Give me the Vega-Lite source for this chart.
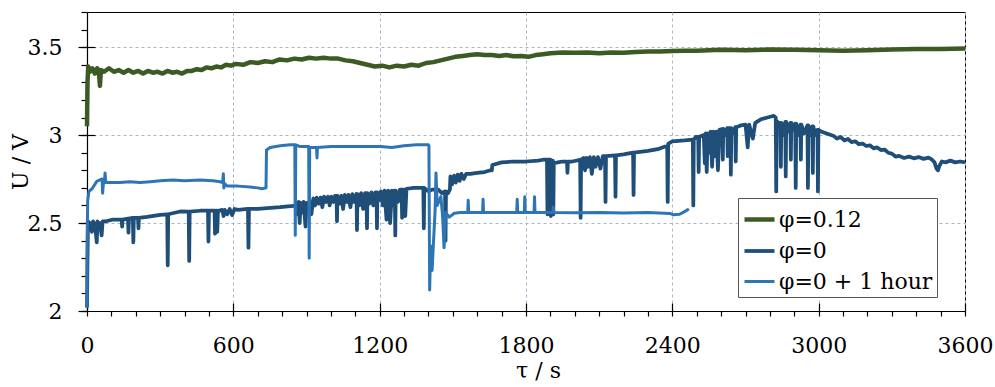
{
"$schema": "https://vega.github.io/schema/vega-lite/v6.json",
"width": 878, "height": 299,
"autosize": {"type": "none"},
"padding": {"left": 87, "top": 12, "right": 30, "bottom": 76},
"config": {
  "font": "DejaVu Serif",
  "view": {"stroke": "black", "strokeWidth": 1},
  "axis": {"labelFont": "DejaVu Serif", "titleFont": "DejaVu Serif", "labelColor": "black", "titleColor": "black", "tickColor": "black", "domainColor": "black", "domainWidth": 1.2, "tickWidth": 1.2, "labelFontSize": 22, "titleFontSize": 22, "titleFontWeight": "normal", "gridColor": "#a8b6ca", "gridDash": [3, 3], "gridWidth": 1},
  "legend": {"labelFont": "DejaVu Serif", "labelFontSize": 22, "labelColor": "black"}
},
"data": {"values": [
{"series":"φ=0.12","t":0,"U":3.05},{"series":"φ=0.12","t":2,"U":3.30},{"series":"φ=0.12","t":5,"U":3.39},{"series":"φ=0.12","t":12,"U":3.36},{"series":"φ=0.12","t":22,"U":3.38},{"series":"φ=0.12","t":32,"U":3.35},{"series":"φ=0.12","t":42,"U":3.38},{"series":"φ=0.12","t":50,"U":3.34},{"series":"φ=0.12","t":53,"U":3.28},{"series":"φ=0.12","t":57,"U":3.37},{"series":"φ=0.12","t":70,"U":3.36},{"series":"φ=0.12","t":90,"U":3.38},{"series":"φ=0.12","t":110,"U":3.36},{"series":"φ=0.12","t":130,"U":3.37},{"series":"φ=0.12","t":150,"U":3.355},{"series":"φ=0.12","t":170,"U":3.37},{"series":"φ=0.12","t":190,"U":3.355},{"series":"φ=0.12","t":210,"U":3.365},{"series":"φ=0.12","t":230,"U":3.35},{"series":"φ=0.12","t":250,"U":3.365},{"series":"φ=0.12","t":270,"U":3.355},{"series":"φ=0.12","t":290,"U":3.36},{"series":"φ=0.12","t":310,"U":3.35},{"series":"φ=0.12","t":330,"U":3.365},{"series":"φ=0.12","t":350,"U":3.355},{"series":"φ=0.12","t":370,"U":3.36},{"series":"φ=0.12","t":390,"U":3.35},{"series":"φ=0.12","t":410,"U":3.365},{"series":"φ=0.12","t":430,"U":3.365},{"series":"φ=0.12","t":450,"U":3.375},{"series":"φ=0.12","t":470,"U":3.37},{"series":"φ=0.12","t":490,"U":3.385},{"series":"φ=0.12","t":510,"U":3.38},{"series":"φ=0.12","t":530,"U":3.39},{"series":"φ=0.12","t":550,"U":3.385},{"series":"φ=0.12","t":570,"U":3.40},{"series":"φ=0.12","t":590,"U":3.395},{"series":"φ=0.12","t":610,"U":3.405},{"series":"φ=0.12","t":640,"U":3.40},{"series":"φ=0.12","t":670,"U":3.415},{"series":"φ=0.12","t":700,"U":3.41},{"series":"φ=0.12","t":730,"U":3.42},{"series":"φ=0.12","t":760,"U":3.415},{"series":"φ=0.12","t":790,"U":3.43},{"series":"φ=0.12","t":820,"U":3.425},{"series":"φ=0.12","t":850,"U":3.435},{"series":"φ=0.12","t":880,"U":3.43},{"series":"φ=0.12","t":910,"U":3.44},{"series":"φ=0.12","t":940,"U":3.435},{"series":"φ=0.12","t":970,"U":3.44},{"series":"φ=0.12","t":1000,"U":3.435},{"series":"φ=0.12","t":1030,"U":3.435},{"series":"φ=0.12","t":1060,"U":3.425},{"series":"φ=0.12","t":1090,"U":3.42},{"series":"φ=0.12","t":1120,"U":3.41},{"series":"φ=0.12","t":1150,"U":3.40},{"series":"φ=0.12","t":1180,"U":3.39},{"series":"φ=0.12","t":1210,"U":3.395},{"series":"φ=0.12","t":1240,"U":3.385},{"series":"φ=0.12","t":1270,"U":3.395},{"series":"φ=0.12","t":1300,"U":3.39},{"series":"φ=0.12","t":1330,"U":3.40},{"series":"φ=0.12","t":1360,"U":3.395},{"series":"φ=0.12","t":1390,"U":3.41},{"series":"φ=0.12","t":1420,"U":3.415},{"series":"φ=0.12","t":1450,"U":3.425},{"series":"φ=0.12","t":1480,"U":3.435},{"series":"φ=0.12","t":1510,"U":3.445},{"series":"φ=0.12","t":1540,"U":3.45},{"series":"φ=0.12","t":1570,"U":3.455},{"series":"φ=0.12","t":1600,"U":3.46},{"series":"φ=0.12","t":1630,"U":3.455},{"series":"φ=0.12","t":1660,"U":3.455},{"series":"φ=0.12","t":1690,"U":3.45},{"series":"φ=0.12","t":1720,"U":3.455},{"series":"φ=0.12","t":1750,"U":3.448},{"series":"φ=0.12","t":1780,"U":3.45},{"series":"φ=0.12","t":1810,"U":3.445},{"series":"φ=0.12","t":1840,"U":3.455},{"series":"φ=0.12","t":1870,"U":3.46},{"series":"φ=0.12","t":1900,"U":3.465},{"series":"φ=0.12","t":1950,"U":3.47},{"series":"φ=0.12","t":2000,"U":3.468},{"series":"φ=0.12","t":2050,"U":3.47},{"series":"φ=0.12","t":2100,"U":3.465},{"series":"φ=0.12","t":2150,"U":3.47},{"series":"φ=0.12","t":2200,"U":3.468},{"series":"φ=0.12","t":2250,"U":3.473},{"series":"φ=0.12","t":2300,"U":3.475},{"series":"φ=0.12","t":2350,"U":3.475},{"series":"φ=0.12","t":2400,"U":3.478},{"series":"φ=0.12","t":2450,"U":3.48},{"series":"φ=0.12","t":2500,"U":3.48},{"series":"φ=0.12","t":2600,"U":3.485},{"series":"φ=0.12","t":2700,"U":3.483},{"series":"φ=0.12","t":2800,"U":3.487},{"series":"φ=0.12","t":2900,"U":3.485},{"series":"φ=0.12","t":3000,"U":3.482},{"series":"φ=0.12","t":3100,"U":3.48},{"series":"φ=0.12","t":3200,"U":3.483},{"series":"φ=0.12","t":3300,"U":3.487},{"series":"φ=0.12","t":3400,"U":3.49},{"series":"φ=0.12","t":3500,"U":3.49},{"series":"φ=0.12","t":3600,"U":3.492},
{"series":"φ=0","t":0,"U":2.02},{"series":"φ=0","t":2,"U":2.29},{"series":"φ=0","t":4,"U":2.51},{"series":"φ=0","t":12,"U":2.50},{"series":"φ=0","t":20,"U":2.45},{"series":"φ=0","t":25,"U":2.51},{"series":"φ=0","t":33,"U":2.49},{"series":"φ=0","t":40,"U":2.39},{"series":"φ=0","t":43,"U":2.51},{"series":"φ=0","t":49,"U":2.47},{"series":"φ=0","t":53,"U":2.50},{"series":"φ=0","t":60,"U":2.43},{"series":"φ=0","t":64,"U":2.51},{"series":"φ=0","t":78,"U":2.51},{"series":"φ=0","t":107,"U":2.52},{"series":"φ=0","t":142,"U":2.52},{"series":"φ=0","t":144,"U":2.48},{"series":"φ=0","t":146,"U":2.52},{"series":"φ=0","t":168,"U":2.525},{"series":"φ=0","t":170,"U":2.445},{"series":"φ=0","t":172,"U":2.525},{"series":"φ=0","t":188,"U":2.53},{"series":"φ=0","t":190,"U":2.39},{"series":"φ=0","t":192,"U":2.53},{"series":"φ=0","t":209,"U":2.53},{"series":"φ=0","t":211,"U":2.47},{"series":"φ=0","t":213,"U":2.53},{"series":"φ=0","t":246,"U":2.535},{"series":"φ=0","t":300,"U":2.547},{"series":"φ=0","t":329,"U":2.55},{"series":"φ=0","t":331,"U":2.26},{"series":"φ=0","t":333,"U":2.55},{"series":"φ=0","t":382,"U":2.566},{"series":"φ=0","t":417,"U":2.565},{"series":"φ=0","t":419,"U":2.285},{"series":"φ=0","t":421,"U":2.565},{"series":"φ=0","t":464,"U":2.57},{"series":"φ=0","t":496,"U":2.57},{"series":"φ=0","t":498,"U":2.395},{"series":"φ=0","t":500,"U":2.57},{"series":"φ=0","t":523,"U":2.57},{"series":"φ=0","t":525,"U":2.44},{"series":"φ=0","t":528,"U":2.57},{"series":"φ=0","t":532,"U":2.57},{"series":"φ=0","t":534,"U":2.45},{"series":"φ=0","t":537,"U":2.57},{"series":"φ=0","t":555,"U":2.575},{"series":"φ=0","t":560,"U":2.54},{"series":"φ=0","t":565,"U":2.575},{"series":"φ=0","t":575,"U":2.55},{"series":"φ=0","t":585,"U":2.58},{"series":"φ=0","t":595,"U":2.545},{"series":"φ=0","t":605,"U":2.58},{"series":"φ=0","t":620,"U":2.575},{"series":"φ=0","t":660,"U":2.58},{"series":"φ=0","t":662,"U":2.36},{"series":"φ=0","t":664,"U":2.58},{"series":"φ=0","t":700,"U":2.58},{"series":"φ=0","t":739,"U":2.585},{"series":"φ=0","t":792,"U":2.59},{"series":"φ=0","t":846,"U":2.598},{"series":"φ=0","t":856,"U":2.60},{"series":"φ=0","t":860,"U":2.615},{"series":"φ=0","t":864,"U":2.55},{"series":"φ=0","t":868,"U":2.62},{"series":"φ=0","t":872,"U":2.50},{"series":"φ=0","t":876,"U":2.615},{"series":"φ=0","t":882,"U":2.56},{"series":"φ=0","t":888,"U":2.62},{"series":"φ=0","t":896,"U":2.48},{"series":"φ=0","t":900,"U":2.615},{"series":"φ=0","t":906,"U":2.57},{"series":"φ=0","t":912,"U":2.625},{"series":"φ=0","t":920,"U":2.55},{"series":"φ=0","t":928,"U":2.64},{"series":"φ=0","t":935,"U":2.60},{"series":"φ=0","t":942,"U":2.645},{"series":"φ=0","t":950,"U":2.61},{"series":"φ=0","t":958,"U":2.645},{"series":"φ=0","t":965,"U":2.59},{"series":"φ=0","t":972,"U":2.65},{"series":"φ=0","t":980,"U":2.62},{"series":"φ=0","t":988,"U":2.65},{"series":"φ=0","t":995,"U":2.60},{"series":"φ=0","t":1002,"U":2.65},{"series":"φ=0","t":1010,"U":2.62},{"series":"φ=0","t":1017,"U":2.655},{"series":"φ=0","t":1023,"U":2.655},{"series":"φ=0","t":1025,"U":2.51},{"series":"φ=0","t":1027,"U":2.655},{"series":"φ=0","t":1035,"U":2.61},{"series":"φ=0","t":1043,"U":2.655},{"series":"φ=0","t":1050,"U":2.58},{"series":"φ=0","t":1057,"U":2.66},{"series":"φ=0","t":1065,"U":2.62},{"series":"φ=0","t":1072,"U":2.66},{"series":"φ=0","t":1080,"U":2.59},{"series":"φ=0","t":1088,"U":2.665},{"series":"φ=0","t":1095,"U":2.62},{"series":"φ=0","t":1105,"U":2.665},{"series":"φ=0","t":1107,"U":2.46},{"series":"φ=0","t":1109,"U":2.665},{"series":"φ=0","t":1116,"U":2.60},{"series":"φ=0","t":1124,"U":2.67},{"series":"φ=0","t":1132,"U":2.58},{"series":"φ=0","t":1140,"U":2.67},{"series":"φ=0","t":1146,"U":2.67},{"series":"φ=0","t":1148,"U":2.47},{"series":"φ=0","t":1150,"U":2.67},{"series":"φ=0","t":1158,"U":2.61},{"series":"φ=0","t":1166,"U":2.675},{"series":"φ=0","t":1174,"U":2.60},{"series":"φ=0","t":1182,"U":2.675},{"series":"φ=0","t":1187,"U":2.675},{"series":"φ=0","t":1189,"U":2.47},{"series":"φ=0","t":1191,"U":2.675},{"series":"φ=0","t":1198,"U":2.63},{"series":"φ=0","t":1205,"U":2.68},{"series":"φ=0","t":1213,"U":2.60},{"series":"φ=0","t":1220,"U":2.685},{"series":"φ=0","t":1228,"U":2.52},{"series":"φ=0","t":1235,"U":2.685},{"series":"φ=0","t":1243,"U":2.50},{"series":"φ=0","t":1250,"U":2.685},{"series":"φ=0","t":1257,"U":2.60},{"series":"φ=0","t":1262,"U":2.685},{"series":"φ=0","t":1264,"U":2.43},{"series":"φ=0","t":1266,"U":2.685},{"series":"φ=0","t":1275,"U":2.62},{"series":"φ=0","t":1283,"U":2.69},{"series":"φ=0","t":1290,"U":2.69},{"series":"φ=0","t":1292,"U":2.53},{"series":"φ=0","t":1294,"U":2.69},{"series":"φ=0","t":1300,"U":2.69},{"series":"φ=0","t":1305,"U":2.54},{"series":"φ=0","t":1310,"U":2.695},{"series":"φ=0","t":1340,"U":2.70},{"series":"φ=0","t":1379,"U":2.70},{"series":"φ=0","t":1381,"U":2.47},{"series":"φ=0","t":1383,"U":2.70},{"series":"φ=0","t":1400,"U":2.68},{"series":"φ=0","t":1415,"U":2.69},{"series":"φ=0","t":1440,"U":2.69},{"series":"φ=0","t":1455,"U":2.67},{"series":"φ=0","t":1468,"U":2.68},{"series":"φ=0","t":1470,"U":2.40},{"series":"φ=0","t":1472,"U":2.68},{"series":"φ=0","t":1480,"U":2.67},{"series":"φ=0","t":1488,"U":2.69},{"series":"φ=0","t":1490,"U":2.765},{"series":"φ=0","t":1497,"U":2.72},{"series":"φ=0","t":1505,"U":2.77},{"series":"φ=0","t":1512,"U":2.73},{"series":"φ=0","t":1520,"U":2.775},{"series":"φ=0","t":1528,"U":2.74},{"series":"φ=0","t":1535,"U":2.78},{"series":"φ=0","t":1545,"U":2.75},{"series":"φ=0","t":1555,"U":2.78},{"series":"φ=0","t":1572,"U":2.78},{"series":"φ=0","t":1600,"U":2.785},{"series":"φ=0","t":1630,"U":2.79},{"series":"φ=0","t":1654,"U":2.80},{"series":"φ=0","t":1660,"U":2.80},{"series":"φ=0","t":1662,"U":2.83},{"series":"φ=0","t":1700,"U":2.845},{"series":"φ=0","t":1750,"U":2.85},{"series":"φ=0","t":1800,"U":2.85},{"series":"φ=0","t":1850,"U":2.855},{"series":"φ=0","t":1870,"U":2.86},{"series":"φ=0","t":1886,"U":2.86},{"series":"φ=0","t":1888,"U":2.55},{"series":"φ=0","t":1890,"U":2.86},{"series":"φ=0","t":1900,"U":2.86},{"series":"φ=0","t":1902,"U":2.54},{"series":"φ=0","t":1904,"U":2.85},{"series":"φ=0","t":1910,"U":2.855},{"series":"φ=0","t":1912,"U":2.55},{"series":"φ=0","t":1914,"U":2.84},{"series":"φ=0","t":1930,"U":2.845},{"series":"φ=0","t":1950,"U":2.85},{"series":"φ=0","t":1968,"U":2.85},{"series":"φ=0","t":1970,"U":2.785},{"series":"φ=0","t":1972,"U":2.85},{"series":"φ=0","t":1990,"U":2.85},{"series":"φ=0","t":2022,"U":2.86},{"series":"φ=0","t":2024,"U":2.53},{"series":"φ=0","t":2026,"U":2.86},{"series":"φ=0","t":2036,"U":2.87},{"series":"φ=0","t":2042,"U":2.80},{"series":"φ=0","t":2048,"U":2.87},{"series":"φ=0","t":2055,"U":2.82},{"series":"φ=0","t":2062,"U":2.875},{"series":"φ=0","t":2070,"U":2.78},{"series":"φ=0","t":2078,"U":2.875},{"series":"φ=0","t":2085,"U":2.82},{"series":"φ=0","t":2095,"U":2.875},{"series":"φ=0","t":2105,"U":2.81},{"series":"φ=0","t":2115,"U":2.88},{"series":"φ=0","t":2124,"U":2.88},{"series":"φ=0","t":2126,"U":2.62},{"series":"φ=0","t":2128,"U":2.88},{"series":"φ=0","t":2165,"U":2.885},{"series":"φ=0","t":2167,"U":2.65},{"series":"φ=0","t":2169,"U":2.885},{"series":"φ=0","t":2200,"U":2.89},{"series":"φ=0","t":2239,"U":2.90},{"series":"φ=0","t":2241,"U":2.66},{"series":"φ=0","t":2243,"U":2.90},{"series":"φ=0","t":2300,"U":2.91},{"series":"φ=0","t":2340,"U":2.92},{"series":"φ=0","t":2370,"U":2.935},{"series":"φ=0","t":2379,"U":2.936},{"series":"φ=0","t":2381,"U":2.62},{"series":"φ=0","t":2383,"U":2.95},{"series":"φ=0","t":2400,"U":2.965},{"series":"φ=0","t":2450,"U":2.97},{"series":"φ=0","t":2484,"U":2.975},{"series":"φ=0","t":2486,"U":2.60},{"series":"φ=0","t":2488,"U":2.975},{"series":"φ=0","t":2496,"U":2.99},{"series":"φ=0","t":2506,"U":2.99},{"series":"φ=0","t":2508,"U":2.79},{"series":"φ=0","t":2510,"U":2.99},{"series":"φ=0","t":2529,"U":3.0},{"series":"φ=0","t":2533,"U":2.84},{"series":"φ=0","t":2537,"U":3.01},{"series":"φ=0","t":2541,"U":2.79},{"series":"φ=0","t":2545,"U":3.01},{"series":"φ=0","t":2551,"U":2.90},{"series":"φ=0","t":2557,"U":3.02},{"series":"φ=0","t":2563,"U":2.82},{"series":"φ=0","t":2569,"U":3.02},{"series":"φ=0","t":2575,"U":2.88},{"series":"φ=0","t":2581,"U":3.02},{"series":"φ=0","t":2587,"U":2.80},{"series":"φ=0","t":2593,"U":3.03},{"series":"φ=0","t":2605,"U":3.035},{"series":"φ=0","t":2607,"U":2.86},{"series":"φ=0","t":2609,"U":3.035},{"series":"φ=0","t":2618,"U":3.0},{"series":"φ=0","t":2625,"U":3.04},{"series":"φ=0","t":2627,"U":2.88},{"series":"φ=0","t":2629,"U":3.04},{"series":"φ=0","t":2638,"U":3.04},{"series":"φ=0","t":2640,"U":2.775},{"series":"φ=0","t":2642,"U":3.04},{"series":"φ=0","t":2650,"U":3.01},{"series":"φ=0","t":2658,"U":3.045},{"series":"φ=0","t":2660,"U":2.85},{"series":"φ=0","t":2662,"U":3.045},{"series":"φ=0","t":2672,"U":3.05},{"series":"φ=0","t":2681,"U":3.055},{"series":"φ=0","t":2700,"U":3.06},{"series":"φ=0","t":2709,"U":2.93},{"series":"φ=0","t":2715,"U":3.06},{"series":"φ=0","t":2730,"U":2.98},{"series":"φ=0","t":2740,"U":3.07},{"series":"φ=0","t":2763,"U":3.09},{"series":"φ=0","t":2790,"U":3.10},{"series":"φ=0","t":2816,"U":3.11},{"series":"φ=0","t":2824,"U":3.10},{"series":"φ=0","t":2826,"U":2.68},{"series":"φ=0","t":2828,"U":3.08},{"series":"φ=0","t":2835,"U":3.07},{"series":"φ=0","t":2843,"U":3.07},{"series":"φ=0","t":2845,"U":2.82},{"series":"φ=0","t":2847,"U":3.07},{"series":"φ=0","t":2855,"U":3.0},{"series":"φ=0","t":2863,"U":3.075},{"series":"φ=0","t":2865,"U":2.765},{"series":"φ=0","t":2867,"U":3.075},{"series":"φ=0","t":2876,"U":3.02},{"series":"φ=0","t":2884,"U":3.07},{"series":"φ=0","t":2886,"U":2.86},{"series":"φ=0","t":2888,"U":3.07},{"series":"φ=0","t":2896,"U":3.03},{"series":"φ=0","t":2904,"U":3.065},{"series":"φ=0","t":2906,"U":2.70},{"series":"φ=0","t":2908,"U":3.065},{"series":"φ=0","t":2916,"U":3.0},{"series":"φ=0","t":2925,"U":3.06},{"series":"φ=0","t":2927,"U":2.86},{"series":"φ=0","t":2929,"U":3.06},{"series":"φ=0","t":2940,"U":3.01},{"series":"φ=0","t":2954,"U":3.055},{"series":"φ=0","t":2956,"U":2.70},{"series":"φ=0","t":2958,"U":3.055},{"series":"φ=0","t":2966,"U":3.0},{"series":"φ=0","t":2974,"U":3.05},{"series":"φ=0","t":2976,"U":2.785},{"series":"φ=0","t":2978,"U":3.05},{"series":"φ=0","t":2986,"U":3.0},{"series":"φ=0","t":2995,"U":3.03},{"series":"φ=0","t":2997,"U":2.68},{"series":"φ=0","t":2999,"U":3.03},{"series":"φ=0","t":3010,"U":3.02},{"series":"φ=0","t":3030,"U":3.01},{"series":"φ=0","t":3062,"U":2.995},{"series":"φ=0","t":3075,"U":2.98},{"series":"φ=0","t":3090,"U":2.99},{"series":"φ=0","t":3105,"U":2.97},{"series":"φ=0","t":3120,"U":2.978},{"series":"φ=0","t":3135,"U":2.96},{"series":"φ=0","t":3150,"U":2.965},{"series":"φ=0","t":3165,"U":2.948},{"series":"φ=0","t":3180,"U":2.952},{"series":"φ=0","t":3195,"U":2.938},{"series":"φ=0","t":3210,"U":2.942},{"series":"φ=0","t":3225,"U":2.925},{"series":"φ=0","t":3240,"U":2.93},{"series":"φ=0","t":3255,"U":2.915},{"series":"φ=0","t":3270,"U":2.918},{"series":"φ=0","t":3285,"U":2.9},{"series":"φ=0","t":3300,"U":2.895},{"series":"φ=0","t":3315,"U":2.878},{"series":"φ=0","t":3330,"U":2.882},{"series":"φ=0","t":3350,"U":2.87},{"series":"φ=0","t":3370,"U":2.878},{"series":"φ=0","t":3390,"U":2.868},{"series":"φ=0","t":3410,"U":2.875},{"series":"φ=0","t":3430,"U":2.865},{"series":"φ=0","t":3450,"U":2.872},{"series":"φ=0","t":3465,"U":2.86},{"series":"φ=0","t":3475,"U":2.845},{"series":"φ=0","t":3483,"U":2.81},{"series":"φ=0","t":3489,"U":2.80},{"series":"φ=0","t":3495,"U":2.825},{"series":"φ=0","t":3505,"U":2.85},{"series":"φ=0","t":3520,"U":2.845},{"series":"φ=0","t":3540,"U":2.855},{"series":"φ=0","t":3560,"U":2.845},{"series":"φ=0","t":3580,"U":2.85},{"series":"φ=0","t":3600,"U":2.845},
{"series":"φ=0 + 1 hour","t":0,"U":2.02},{"series":"φ=0 + 1 hour","t":1,"U":2.45},{"series":"φ=0 + 1 hour","t":3,"U":2.63},{"series":"φ=0 + 1 hour","t":8,"U":2.68},{"series":"φ=0 + 1 hour","t":21,"U":2.695},{"series":"φ=0 + 1 hour","t":40,"U":2.737},{"series":"φ=0 + 1 hour","t":60,"U":2.75},{"series":"φ=0 + 1 hour","t":62,"U":2.75},{"series":"φ=0 + 1 hour","t":64,"U":2.67},{"series":"φ=0 + 1 hour","t":68,"U":2.74},{"series":"φ=0 + 1 hour","t":72,"U":2.74},{"series":"φ=0 + 1 hour","t":74,"U":2.785},{"series":"φ=0 + 1 hour","t":77,"U":2.73},{"series":"φ=0 + 1 hour","t":100,"U":2.73},{"series":"φ=0 + 1 hour","t":135,"U":2.73},{"series":"φ=0 + 1 hour","t":175,"U":2.735},{"series":"φ=0 + 1 hour","t":218,"U":2.73},{"series":"φ=0 + 1 hour","t":260,"U":2.735},{"series":"φ=0 + 1 hour","t":300,"U":2.74},{"series":"φ=0 + 1 hour","t":353,"U":2.745},{"series":"φ=0 + 1 hour","t":400,"U":2.74},{"series":"φ=0 + 1 hour","t":464,"U":2.745},{"series":"φ=0 + 1 hour","t":517,"U":2.74},{"series":"φ=0 + 1 hour","t":546,"U":2.735},{"series":"φ=0 + 1 hour","t":556,"U":2.73},{"series":"φ=0 + 1 hour","t":559,"U":2.78},{"series":"φ=0 + 1 hour","t":561,"U":2.70},{"series":"φ=0 + 1 hour","t":564,"U":2.725},{"series":"φ=0 + 1 hour","t":575,"U":2.71},{"series":"φ=0 + 1 hour","t":620,"U":2.71},{"series":"φ=0 + 1 hour","t":669,"U":2.705},{"series":"φ=0 + 1 hour","t":700,"U":2.70},{"series":"φ=0 + 1 hour","t":718,"U":2.695},{"series":"φ=0 + 1 hour","t":734,"U":2.70},{"series":"φ=0 + 1 hour","t":736,"U":2.915},{"series":"φ=0 + 1 hour","t":751,"U":2.93},{"series":"φ=0 + 1 hour","t":792,"U":2.94},{"series":"φ=0 + 1 hour","t":833,"U":2.945},{"series":"φ=0 + 1 hour","t":852,"U":2.945},{"series":"φ=0 + 1 hour","t":854,"U":2.43},{"series":"φ=0 + 1 hour","t":856,"U":2.945},{"series":"φ=0 + 1 hour","t":874,"U":2.935},{"series":"φ=0 + 1 hour","t":909,"U":2.935},{"series":"φ=0 + 1 hour","t":911,"U":2.30},{"series":"φ=0 + 1 hour","t":913,"U":2.93},{"series":"φ=0 + 1 hour","t":928,"U":2.93},{"series":"φ=0 + 1 hour","t":941,"U":2.93},{"series":"φ=0 + 1 hour","t":943,"U":2.87},{"series":"φ=0 + 1 hour","t":945,"U":2.93},{"series":"φ=0 + 1 hour","t":1000,"U":2.935},{"series":"φ=0 + 1 hour","t":1100,"U":2.935},{"series":"φ=0 + 1 hour","t":1203,"U":2.935},{"series":"φ=0 + 1 hour","t":1250,"U":2.93},{"series":"φ=0 + 1 hour","t":1300,"U":2.94},{"series":"φ=0 + 1 hour","t":1350,"U":2.945},{"series":"φ=0 + 1 hour","t":1400,"U":2.945},{"series":"φ=0 + 1 hour","t":1402,"U":2.94},{"series":"φ=0 + 1 hour","t":1405,"U":2.12},{"series":"φ=0 + 1 hour","t":1409,"U":2.37},{"series":"φ=0 + 1 hour","t":1415,"U":2.23},{"series":"φ=0 + 1 hour","t":1421,"U":2.40},{"series":"φ=0 + 1 hour","t":1427,"U":2.56},{"series":"φ=0 + 1 hour","t":1431,"U":2.785},{"series":"φ=0 + 1 hour","t":1436,"U":2.60},{"series":"φ=0 + 1 hour","t":1451,"U":2.65},{"series":"φ=0 + 1 hour","t":1458,"U":2.54},{"series":"φ=0 + 1 hour","t":1464,"U":2.36},{"series":"φ=0 + 1 hour","t":1471,"U":2.56},{"series":"φ=0 + 1 hour","t":1485,"U":2.534},{"series":"φ=0 + 1 hour","t":1506,"U":2.556},{"series":"φ=0 + 1 hour","t":1530,"U":2.56},{"series":"φ=0 + 1 hour","t":1561,"U":2.56},{"series":"φ=0 + 1 hour","t":1563,"U":2.63},{"series":"φ=0 + 1 hour","t":1565,"U":2.56},{"series":"φ=0 + 1 hour","t":1600,"U":2.56},{"series":"φ=0 + 1 hour","t":1622,"U":2.56},{"series":"φ=0 + 1 hour","t":1624,"U":2.635},{"series":"φ=0 + 1 hour","t":1626,"U":2.56},{"series":"φ=0 + 1 hour","t":1700,"U":2.56},{"series":"φ=0 + 1 hour","t":1762,"U":2.56},{"series":"φ=0 + 1 hour","t":1764,"U":2.635},{"series":"φ=0 + 1 hour","t":1766,"U":2.56},{"series":"φ=0 + 1 hour","t":1793,"U":2.56},{"series":"φ=0 + 1 hour","t":1795,"U":2.65},{"series":"φ=0 + 1 hour","t":1797,"U":2.56},{"series":"φ=0 + 1 hour","t":1833,"U":2.56},{"series":"φ=0 + 1 hour","t":1835,"U":2.65},{"series":"φ=0 + 1 hour","t":1837,"U":2.56},{"series":"φ=0 + 1 hour","t":1880,"U":2.56},{"series":"φ=0 + 1 hour","t":1910,"U":2.56},{"series":"φ=0 + 1 hour","t":1912,"U":2.59},{"series":"φ=0 + 1 hour","t":1914,"U":2.56},{"series":"φ=0 + 1 hour","t":2000,"U":2.558},{"series":"φ=0 + 1 hour","t":2100,"U":2.56},{"series":"φ=0 + 1 hour","t":2200,"U":2.557},{"series":"φ=0 + 1 hour","t":2300,"U":2.56},{"series":"φ=0 + 1 hour","t":2390,"U":2.555},{"series":"φ=0 + 1 hour","t":2405,"U":2.547},{"series":"φ=0 + 1 hour","t":2430,"U":2.55},{"series":"φ=0 + 1 hour","t":2450,"U":2.565},{"series":"φ=0 + 1 hour","t":2468,"U":2.58}
]},
"layer": [
  {
    "mark": {"type": "line", "strokeJoin": "round"},
    "encoding": {
      "x": {"field": "t", "type": "quantitative", "scale": {"domain": [0, 3600], "nice": false, "zero": false},
        "axis": {"orient": "bottom", "values": [0,100,200,300,400,500,600,700,800,900,1000,1100,1200,1300,1400,1500,1600,1700,1800,1900,2000,2100,2200,2300,2400,2500,2600,2700,2800,2900,3000,3100,3200,3300,3400,3500,3600],
          "tickSize": 5, "labelExpr": "datum.value % 600 === 0 ? format(datum.value, 'd') : ''", "labelPadding": 19, "labelFlush": false, "labelOverlap": false, "grid": false,
          "title": "τ / s", "titleX": 451, "titleY": 66, "titleBaseline": "alphabetic"}},
      "y": {"field": "U", "type": "quantitative", "scale": {"domain": [2, 3.7], "nice": false, "zero": false},
        "axis": {"orient": "left", "values": [2,2.1,2.2,2.3,2.4,2.5,2.6,2.7,2.8,2.9,3,3.1,3.2,3.3,3.4,3.5,3.6,3.7],
          "tickSize": 6, "labels": false, "grid": false, "title": "U / V", "titleX": -55, "titleY": 149.5}},
      "color": {"field": "series", "type": "nominal",
        "scale": {"domain": ["φ=0.12", "φ=0", "φ=0 + 1 hour"], "range": ["#3b5a24", "#1f4e79", "#2e75b6"]},
        "legend": {"orient": "none", "legendX": 651, "legendY": 186, "title": null, "symbolType": "stroke", "symbolSize": 900, "symbolStrokeWidth": 3, "labelFontSize": 22, "padding": 4, "rowPadding": 3, "labelOffset": 2, "strokeColor": "#555555", "fillColor": "white"}},
      "strokeWidth": {"field": "series", "type": "nominal", "scale": {"domain": ["φ=0.12", "φ=0", "φ=0 + 1 hour"], "range": [4.5, 3, 3]}, "legend": null}
    }
  },
  {
    "mark": {"type": "line", "opacity": 0},
    "encoding": {
      "x": {"field": "t", "type": "quantitative",
        "axis": {"orient": "bottom", "values": [0,600,1200,1800,2400,3000,3600], "tickSize": -8, "labels": false, "domain": false, "grid": true, "title": null}},
      "y": {"field": "U", "type": "quantitative",
        "axis": {"orient": "left", "values": [2,2.5,3,3.5], "tickSize": 9, "labelPadding": 16, "labelExpr": "format(datum.value, '~g')", "domain": false, "grid": true, "title": null}}
    }
  },
  {
    "mark": {"type": "line", "opacity": 0},
    "encoding": {
      "x": {"field": "t", "type": "quantitative", "axis": null},
      "y": {"field": "U", "type": "quantitative",
        "axis": {"orient": "left", "values": [2.5,3,3.5], "tickSize": -8, "labels": false, "domain": false, "grid": false, "title": null}}
    }
  }
],
"resolve": {"axis": {"x": "independent", "y": "independent"}}
}
